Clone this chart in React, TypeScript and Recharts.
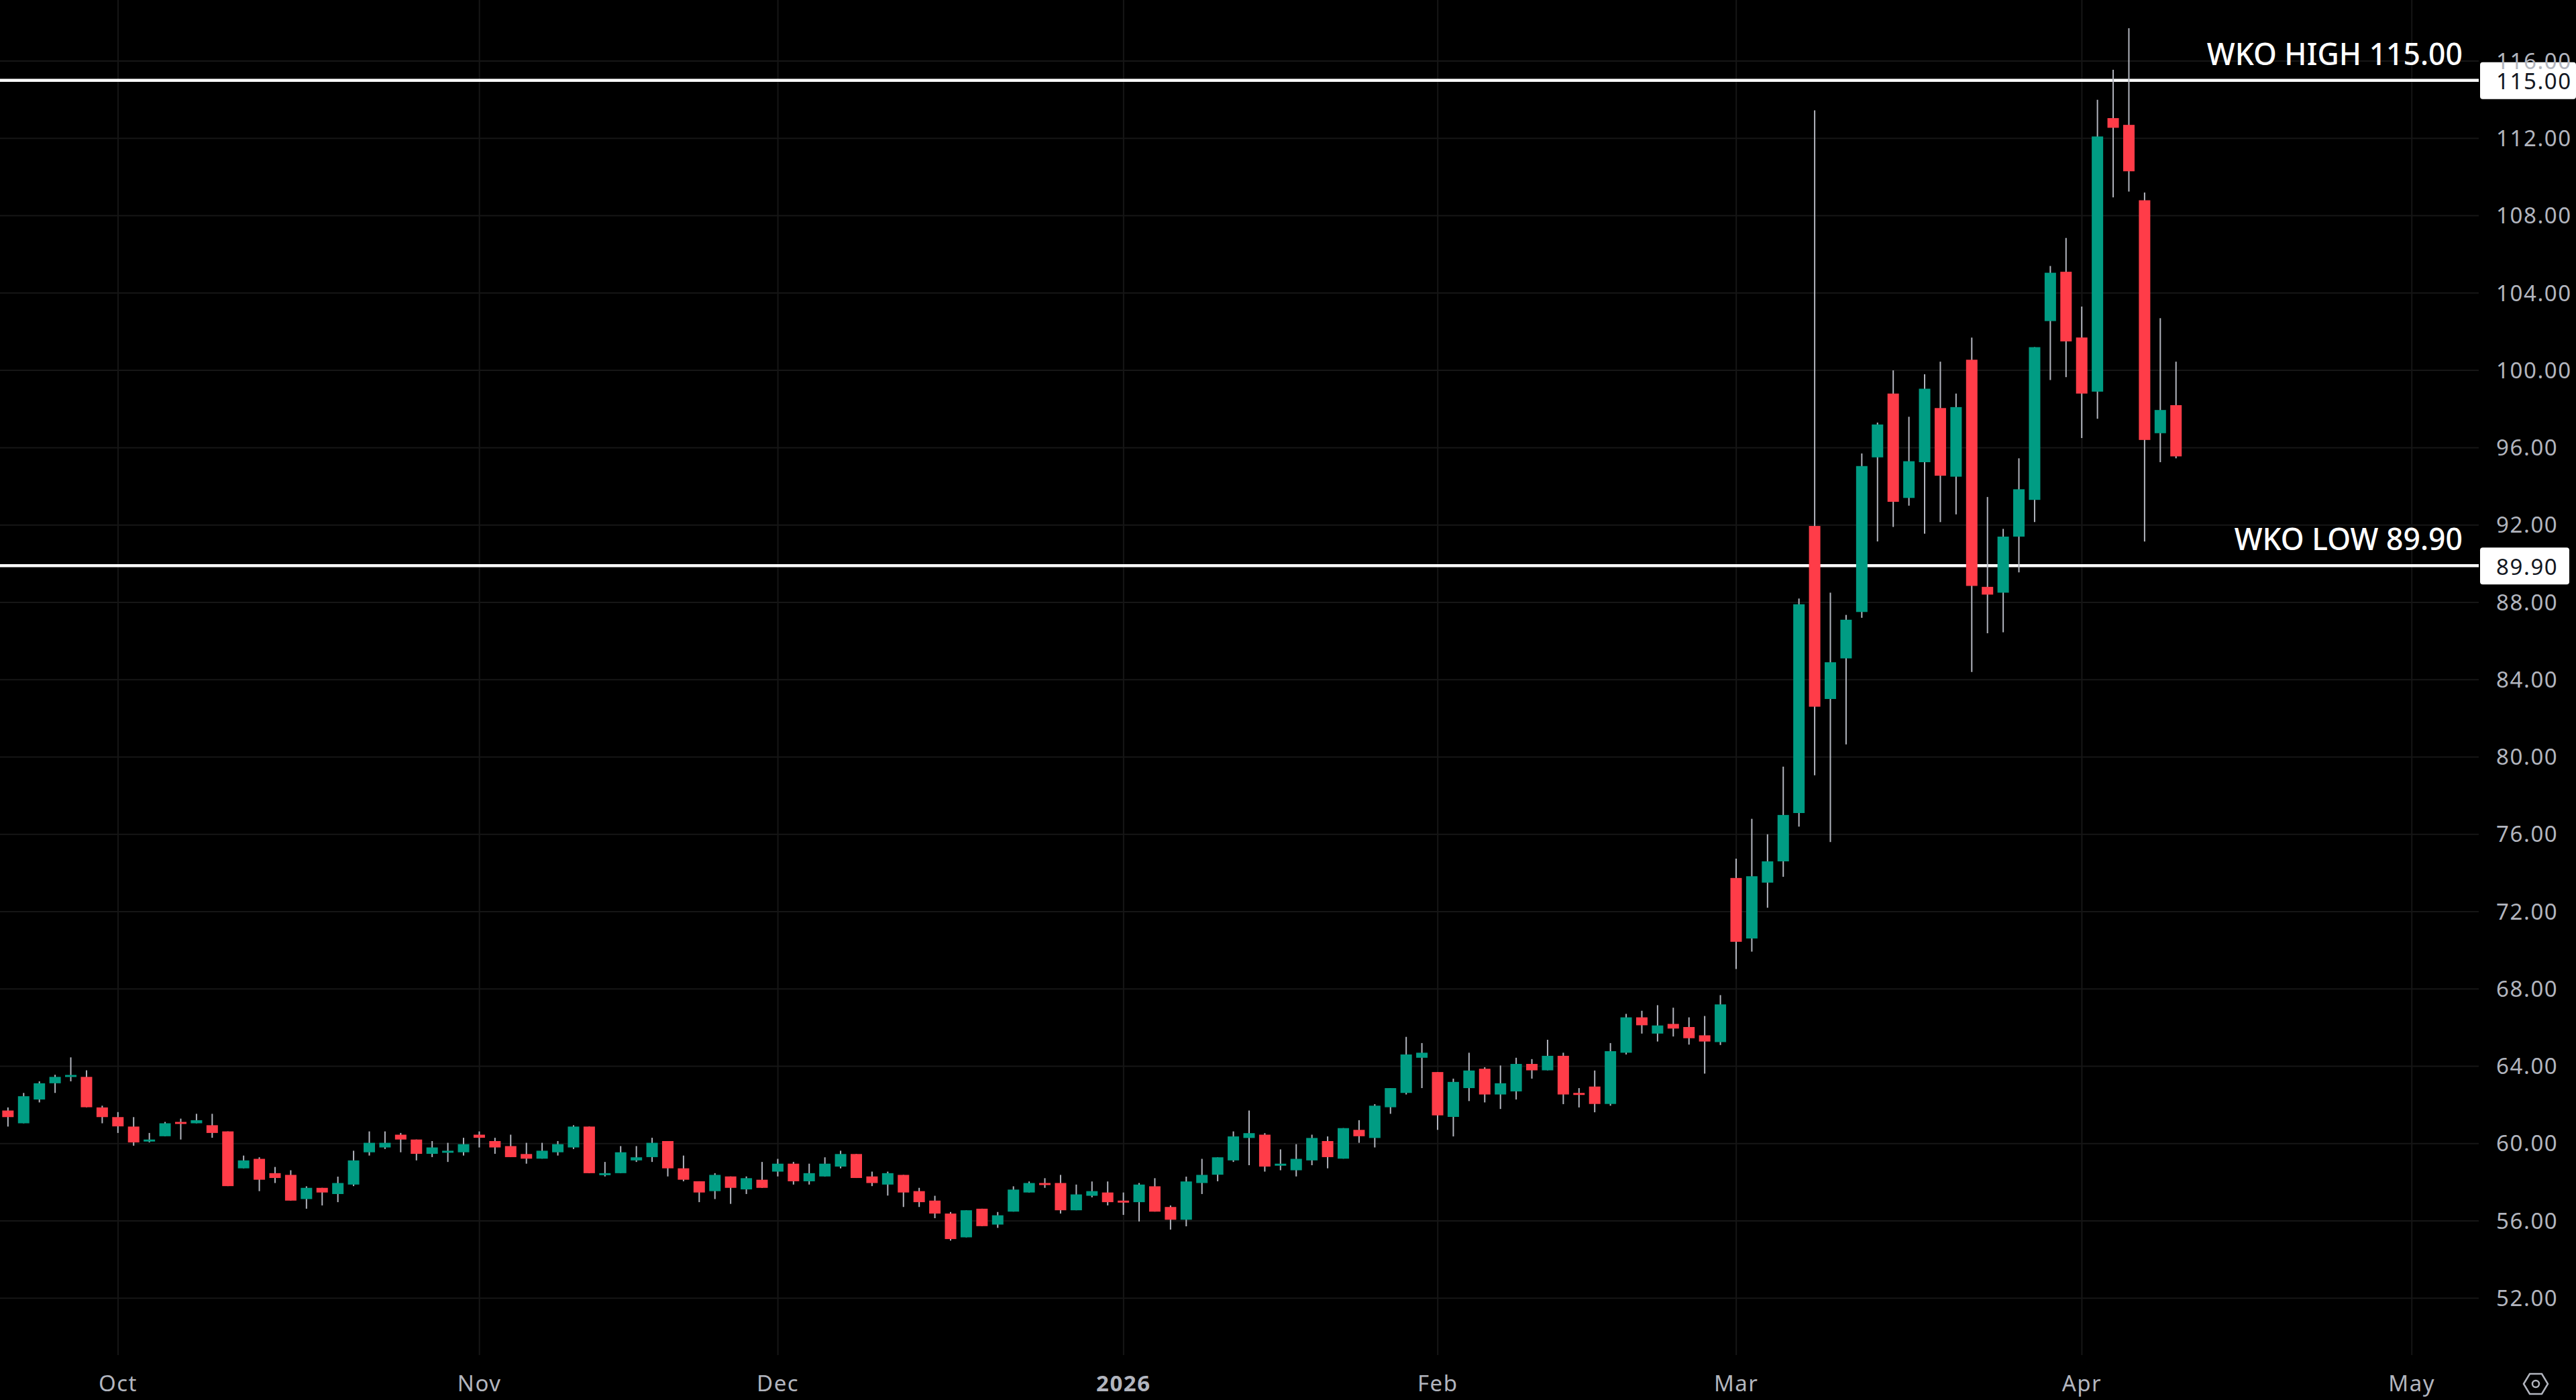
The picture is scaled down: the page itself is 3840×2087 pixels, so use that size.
import {
  Bar,
  CartesianGrid,
  ComposedChart,
  ReferenceLine,
  XAxis,
  YAxis,
} from 'recharts'

const opens = [
  61.71, 61.05, 62.28, 63.12, 63.47, 63.45, 61.87, 61.37, 60.88, 60.13,
  60.38, 61.12, 61.05, 60.95, 60.63, 58.72, 59.21, 58.47, 58.38, 57.13,
  57.71, 57.39, 57.88, 59.55, 59.8, 60.46, 60.21, 59.47, 59.55, 59.55,
  60.46, 60.13, 59.87, 59.46, 59.22, 59.55, 59.8, 60.88, 58.39, 58.47,
  59.13, 59.3, 60.13, 58.72, 58.05, 57.54, 58.3, 57.63, 58.13, 58.55,
  58.96, 58.05, 58.3, 58.81, 59.46, 58.3, 57.88, 58.38, 57.54, 57.05,
  56.38, 55.15, 56.63, 55.81, 56.48, 57.47, 57.96, 57.96, 56.55, 57.3,
  57.47, 57.05, 56.97, 57.79, 56.72, 56.06, 57.96, 58.39, 59.13, 60.29,
  60.46, 58.88, 58.62, 59.13, 60.13, 59.22, 60.71, 60.29, 61.88, 62.62,
  64.44, 63.7, 61.38, 62.87, 63.87, 62.54, 62.7, 64.12, 63.79, 64.54,
  62.62, 62.95, 62.05, 64.7, 66.53, 65.69, 66.19, 66.03, 65.6, 65.25,
  73.74, 70.61, 73.5, 74.6, 77.1, 91.95, 83.0, 85.1, 87.5, 95.5,
  98.8, 93.4, 95.25, 98.05, 94.5, 100.55, 88.8, 88.5, 91.4, 93.3,
  102.55, 105.1, 101.7, 98.9, 113.05, 112.7, 108.8, 96.75, 98.2,
]
const highs = [
  61.87, 62.62, 63.22, 63.56, 64.46, 63.79, 61.96, 61.63, 61.37, 60.55,
  61.12, 61.29, 61.54, 61.54, 60.63, 59.38, 59.29, 58.79, 58.62, 57.79,
  57.71, 58.29, 59.63, 60.63, 60.63, 60.55, 60.21, 60.13, 60.04, 60.3,
  60.63, 60.3, 60.46, 60.04, 60.04, 60.13, 60.95, 60.88, 59.05, 59.87,
  59.87, 60.3, 60.13, 59.38, 58.05, 58.47, 58.3, 58.3, 59.05, 59.21,
  59.05, 58.96, 59.29, 59.63, 59.46, 58.55, 58.55, 58.38, 57.71, 57.3,
  56.46, 56.55, 56.63, 56.46, 57.79, 58.04, 58.21, 58.38, 57.88, 58.04,
  58.04, 57.47, 57.96, 58.21, 56.8, 58.29, 59.21, 59.29, 60.63, 61.71,
  60.54, 59.7, 59.97, 60.46, 60.37, 60.8, 61.21, 62.04, 62.87, 65.52,
  65.2, 63.7, 63.36, 64.7, 63.95, 64.04, 64.44, 64.37, 65.37, 64.7,
  62.87, 63.78, 65.2, 66.71, 66.87, 67.16, 67.03, 66.53, 66.6, 67.68,
  74.74, 76.8, 76.0, 79.5, 88.2, 113.45, 88.5, 87.35, 95.7, 97.3,
  100.0, 97.6, 99.8, 100.45, 98.8, 101.7, 93.45, 91.8, 95.45, 101.2,
  105.4, 106.85, 103.3, 114.0, 115.55, 117.7, 109.2, 102.7, 100.45,
]
const lows = [
  60.88, 61.05, 62.13, 62.62, 63.22, 61.88, 61.05, 60.55, 59.89, 60.06,
  60.38, 60.21, 61.05, 60.3, 57.8, 58.72, 57.54, 57.96, 57.05, 56.63,
  56.8, 56.97, 57.8, 59.38, 59.72, 59.55, 59.13, 59.3, 59.05, 59.38,
  59.8, 59.47, 59.3, 58.96, 59.22, 59.38, 59.72, 58.47, 58.3, 58.47,
  59.05, 59.05, 58.3, 58.05, 56.97, 57.13, 56.88, 57.39, 57.71, 58.3,
  57.88, 57.88, 58.3, 58.72, 58.22, 57.8, 57.31, 56.72, 56.72, 56.14,
  54.98, 55.15, 55.73, 55.64, 56.48, 57.47, 57.71, 56.38, 56.55, 57.22,
  56.8, 56.31, 55.97, 56.48, 55.55, 55.72, 57.39, 58.05, 59.05, 58.88,
  58.55, 58.62, 58.3, 58.88, 58.72, 59.22, 60.04, 59.8, 61.54, 62.54,
  62.87, 60.71, 60.37, 62.2, 62.13, 61.79, 62.28, 63.36, 63.79, 62.04,
  61.87, 61.62, 61.96, 64.61, 65.69, 65.28, 65.54, 65.12, 63.62, 65.1,
  69.03, 69.93, 72.2, 73.8, 76.4, 79.05, 75.6, 80.65, 87.2, 91.15,
  91.9, 93.0, 91.55, 92.15, 92.55, 84.4, 86.4, 86.45, 89.55, 92.15,
  99.5, 99.65, 96.5, 97.5, 108.95, 109.25, 91.15, 95.25, 95.45,
]
const closes = [
  61.37, 62.45, 63.12, 63.45, 63.55, 61.88, 61.37, 60.89, 60.06, 60.21,
  61.05, 61.05, 61.21, 60.55, 57.8, 59.13, 58.13, 58.22, 57.05, 57.71,
  57.47, 57.96, 59.13, 60.04, 60.04, 60.21, 59.47, 59.8, 59.63, 59.97,
  60.3, 59.8, 59.3, 59.22, 59.63, 59.97, 60.88, 58.47, 58.47, 59.55,
  59.29, 60.04, 58.72, 58.13, 57.47, 58.38, 57.71, 58.21, 57.71, 58.96,
  58.05, 58.47, 58.96, 59.46, 58.22, 57.96, 58.47, 57.47, 56.97, 56.38,
  55.06, 56.55, 55.73, 56.29, 57.62, 57.96, 57.88, 56.55, 57.37, 57.54,
  56.97, 56.97, 57.88, 56.48, 56.06, 58.04, 58.38, 59.29, 60.37, 60.54,
  58.81, 58.96, 59.21, 60.29, 59.3, 60.8, 60.38, 61.96, 62.87, 64.61,
  64.7, 61.46, 63.19, 63.78, 62.54, 63.12, 64.12, 63.79, 64.54, 62.54,
  62.54, 62.05, 64.78, 66.53, 66.12, 66.11, 65.95, 65.45, 65.28, 67.2,
  70.44, 73.83, 74.6, 77.0, 87.9, 82.6, 84.9, 87.1, 95.05, 97.2,
  93.2, 95.3, 99.05, 94.55, 98.1, 88.85, 88.4, 91.4, 93.85, 101.2,
  105.05, 101.5, 98.8, 112.1, 112.55, 110.3, 96.4, 97.95, 95.55,
]

const monthTicks = [7, 30, 49, 71, 91, 110, 132, 153]
const monthLabels = ['Oct', 'Nov', 'Dec', '2026', 'Feb', 'Mar', 'Apr', 'May']
const priceTicks = [
  52, 56, 60, 64, 68, 72, 76, 80, 84, 88, 92, 96, 100, 104, 108, 112, 116,
]
const levels = [
  { price: 115, name: 'WKO HIGH' },
  { price: 89.9, name: 'WKO LOW' },
]

const candles = opens.map((open, i) => ({
  i,
  open,
  high: highs[i],
  low: lows[i],
  close: closes[i],
}))

const UP = '#009c83'
const DOWN = '#ff3c48'
const WICK = '#b2b5be'
const GRID = '#161616'
const TEXT = '#b2b5be'
const FONT = '"Noto Sans", sans-serif'

function Candle({ x, y, width, height, payload }: any) {
  const { open, high, low, close } = payload
  const perUnit = height / (high - low)
  const top = y + (high - Math.max(open, close)) * perUnit
  const bodyHeight = Math.max(Math.abs(open - close) * perUnit, 3)
  const cx = x + width / 2
  return (
    <g>
      <line x1={cx} x2={cx} y1={y} y2={y + height} stroke={WICK} strokeWidth={2} />
      <rect
        x={x}
        y={top}
        width={width}
        height={bodyHeight}
        fill={close >= open ? UP : DOWN}
      />
    </g>
  )
}

function MonthTick({ x, y, payload }: any) {
  const label = monthLabels[monthTicks.indexOf(payload.value)]
  return (
    <text
      x={x}
      y={y + 33}
      textAnchor="middle"
      dominantBaseline="central"
      fill={TEXT}
      fontFamily={FONT}
      fontSize={33}
      fontWeight={label === '2026' ? 700 : 400}
      letterSpacing={1.5}
    >
      {label}
    </text>
  )
}

function LevelLabel({ viewBox, price, name }: any) {
  const right = viewBox.x + viewBox.width
  const y = viewBox.y
  const text = price.toFixed(2)
  const tagWidth = price >= 100 ? 143 : 133
  return (
    <g>
      <text
        x={right - 24}
        y={y - 23}
        textAnchor="end"
        fill="#ffffff"
        fontFamily={FONT}
        fontSize={44.5}
        fontWeight={500}
      >
        {name} {text}
      </text>
      <rect x={right + 2} y={y - 27} width={tagWidth} height={55} rx={4} fill="#ffffff" />
      <text
        x={right + 26}
        y={y + 1}
        dominantBaseline="central"
        fill="#131722"
        fontFamily={FONT}
        fontSize={33}
        letterSpacing={1.6}
      >
        {text}
      </text>
    </g>
  )
}

export default function App() {
  return (
    <div
      style={{
        position: 'absolute',
        left: 0,
        top: 0,
        width: 3840,
        height: 2087,
        background: '#000000',
        overflow: 'hidden',
      }}
    >
      <ComposedChart
        width={3840}
        height={2087}
        data={candles}
        margin={{ top: 0, right: 0, bottom: 0, left: 0 }}
      >
        <CartesianGrid
          stroke={GRID}
          strokeWidth={2}
          horizontalValues={priceTicks}
          verticalValues={monthTicks}
        />
        <XAxis
          dataKey="i"
          type="number"
          scale="linear"
          domain={[-0.515, 157.26]}
          allowDataOverflow
          ticks={monthTicks}
          interval={0}
          height={67}
          tickLine={false}
          axisLine={false}
          tick={<MonthTick />}
        />
        <YAxis
          orientation="right"
          type="number"
          domain={[49.06, 119.16]}
          allowDataOverflow
          ticks={priceTicks}
          interval={0}
          width={145}
          tickLine={false}
          axisLine={false}
          tickSize={0}
          tickMargin={26}
          tickFormatter={(value) => value.toFixed(2)}
          tick={{ fill: TEXT, fontSize: 33, fontFamily: FONT, letterSpacing: 1.6 }}
        />
        {levels.map((level) => (
          <ReferenceLine
            key={level.name}
            y={level.price}
            stroke="#ffffff"
            strokeWidth={4.5}
            zIndex={250}
            label={<LevelLabel price={level.price} name={level.name} />}
          />
        ))}
        <Bar
          dataKey={(row) => [row.low, row.high]}
          barSize={17}
          shape={<Candle />}
          isAnimationActive={false}
        />
      </ComposedChart>
      <svg
        width={60}
        height={60}
        viewBox="0 0 60 60"
        style={{ position: 'absolute', left: 3750, top: 2033 }}
      >
        <polygon
          points="12,30 21,15 39,15 48,30 39,45 21,45"
          fill="none"
          stroke={TEXT}
          strokeWidth={2.5}
        />
        <circle cx={30} cy={30} r={5} fill="none" stroke={TEXT} strokeWidth={2.5} />
      </svg>
    </div>
  )
}
